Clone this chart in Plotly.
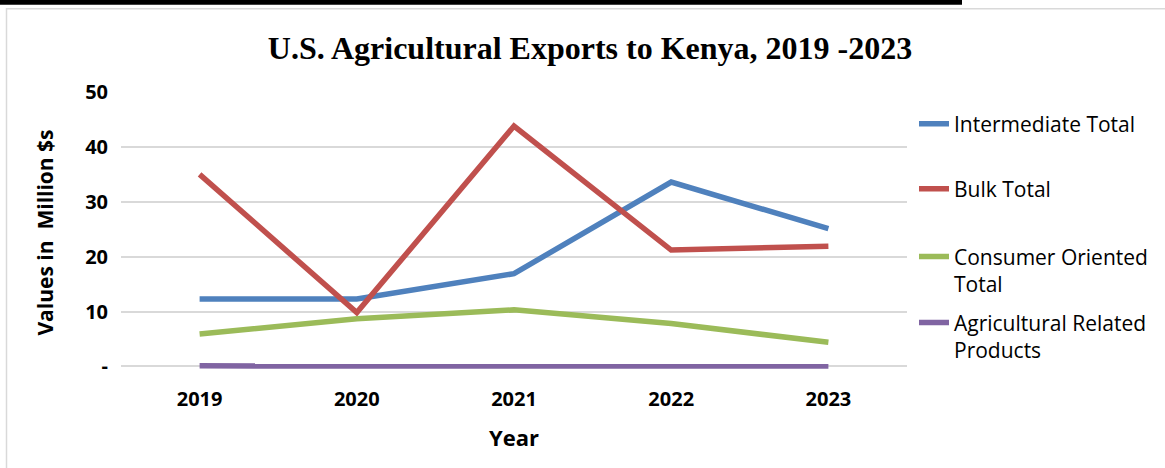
import plotly.graph_objects as go

# ---------------- data ----------------
years = ["2019", "2020", "2021", "2022", "2023"]
intermediate_total = [12.3, 12.3, 16.9, 33.6, 25.1]
bulk_total = [35.0, 9.8, 43.8, 21.2, 21.9]
consumer_oriented_total = [5.9, 8.7, 10.3, 7.8, 4.4]
agricultural_related_products = [0.1, 0.15, 0.05, 0.08, 0.08]

series_names = [
    "Intermediate Total",
    "Bulk Total",
    "Consumer Oriented<br>Total",
    "Agricultural Related<br>Products",
]
y_tick_values = [0, 10, 20, 30, 40, 50]
y_tick_text = ["-", "10", "20", "30", "40", "50"]

# ---------------- layout geometry (pixels) ----------------
W, H = 1165, 468
PX0, PX1 = 121, 907          # plot area left/right
Y_TOP_PX, Y_ZERO_PX = 92, 366  # pixel rows of y=50 and y=0
Y_MIN, Y_MAX = -1.2, 50
PX_PER_UNIT = (Y_ZERO_PX - Y_TOP_PX) / Y_MAX
PY0 = Y_TOP_PX
PY1 = Y_ZERO_PX - Y_MIN * PX_PER_UNIT   # bottom of plot area (slightly below 0)


def xp(px):
    return (px - PX0) / (PX1 - PX0)


def yp(py):
    return (PY1 - py) / (PY1 - PY0)


colors = ["#4F81BD", "#C0504D", "#9BBB59", "#8064A2"]
all_series = [intermediate_total, bulk_total, consumer_oriented_total,
              agricultural_related_products]
legend_ids = ["legend", "legend2", "legend3", "legend4"]

SANS = "Open Sans"

fig = go.Figure()
for name, vals, col, lg in zip(series_names, all_series, colors, legend_ids):
    fig.add_trace(go.Scatter(
        x=years, y=vals, name=name, mode="lines",
        line=dict(color=col, width=5.5),
        legend=lg,
    ))

legend_common = dict(
    bgcolor="rgba(0,0,0,0)", borderwidth=0,
    font=dict(family=SANS, size=21, color="#000000"),
    xanchor="left", yanchor="middle", valign="top",
)
legend_y_px = [124, 189, 270, 336]
legend_x_px = 914
layout_legends = {}
for lg, ypx in zip(legend_ids, legend_y_px):
    layout_legends[lg] = dict(legend_common, x=xp(legend_x_px), y=yp(ypx))

fig.update_layout(
    width=W, height=H,
    margin=dict(l=PX0, r=W - PX1, t=PY0, b=H - PY1, pad=0),
    paper_bgcolor="#FFFFFF", plot_bgcolor="#FFFFFF",
    showlegend=True,
    title=dict(
        text="<b>U.S. Agricultural Exports to Kenya, 2019 -2023</b>",
        font=dict(family="Liberation Serif", size=32, color="#000000"),
        x=590 / W, xanchor="center", xref="container",
        y=1 - 48 / H, yanchor="middle", yref="container",
    ),
    xaxis=dict(
        type="category", range=[-0.5, 4.5],
        showgrid=False, zeroline=False, showline=False, ticks="",
        tickfont=dict(family=SANS, size=20, color="#000000", weight="bold"),
        ticklabelstandoff=12,
        title=dict(text="<b>Year</b>", standoff=19,
                   font=dict(family=SANS, size=22, color="#000000")),
    ),
    yaxis=dict(
        range=[Y_MIN, Y_MAX], tickvals=y_tick_values, ticktext=y_tick_text,
        showgrid=True, gridcolor="#D9D9D9", gridwidth=1.5,
        zeroline=False, showline=False, ticks="",
        tickfont=dict(family=SANS, size=20, color="#000000", weight="bold"),
        ticklabelstandoff=12,
        title=dict(text="<b>Values in  Million $s</b>", standoff=25,
                   font=dict(family=SANS, size=21, color="#000000")),
    ),
    **layout_legends,
)

# outer chart border and top black bar (decoration)
fig.add_shape(type="rect", xref="paper", yref="paper",
              x0=xp(6.5), x1=xp(1175), y0=yp(9), y1=yp(480),
              line=dict(color="#D9D9D9", width=1.5), fillcolor="rgba(0,0,0,0)",
              layer="below")
fig.add_shape(type="rect", xref="paper", yref="paper",
              x0=xp(-5), x1=xp(962), y0=yp(-5), y1=yp(5),
              line=dict(width=0), fillcolor="#000000", layer="above")

fig.write_html("out.html")
